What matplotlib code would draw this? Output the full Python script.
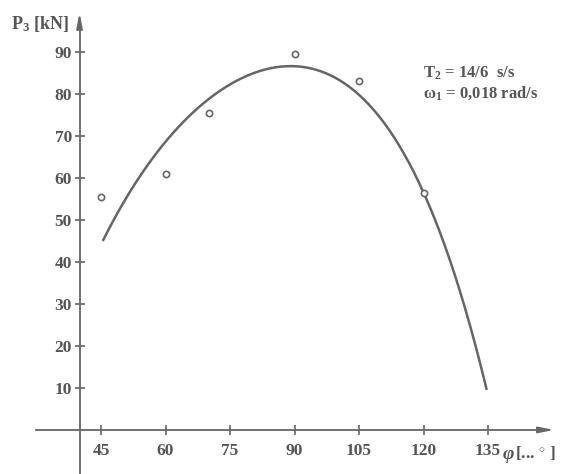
import matplotlib
matplotlib.use("Agg")
import matplotlib.pyplot as plt
import numpy as np

plt.rcParams["font.family"] = ["Liberation Serif", "DejaVu Serif"]
plt.rcParams["mathtext.fontset"] = "custom"
plt.rcParams["mathtext.rm"] = "Liberation Serif:bold"
plt.rcParams["mathtext.it"] = "Liberation Serif:italic:bold"
plt.rcParams["mathtext.bf"] = "Liberation Serif:bold"

# measured points: angle phi [deg] vs force P3 [kN]
phi_meas = [45, 60, 70, 90, 105, 120]
p3_meas = [55.5, 61.0, 75.5, 89.5, 83.0, 56.5]

# characteristic curve, sampled along its length
phi_curve = [45.4, 50.2, 55.6, 61.8, 68.8, 77.3, 82.0, 85.9, 89.0, 94.4,
             102.1, 109.9, 117.6, 121.5, 125.4, 129.3, 133.1, 134.7]
p3_curve = [45.2, 54.0, 62.7, 70.6, 77.8, 82.9, 85.6, 87.1, 87.3, 86.5,
            81.7, 73.0, 61.1, 53.2, 43.6, 31.0, 17.5, 7.5]

x_ticks = [45, 60, 75, 90, 105, 120, 135]
y_ticks = [10, 20, 30, 40, 50, 60, 70, 80, 90]

line_col = "#666666"
text_col = "#555555"

fig = plt.figure(figsize=(5.68, 4.74), dpi=100)
ax = fig.add_axes([0, 0, 1, 1])
ax.set_xlim(21.5, 153.6)
ax.set_ylim(-10.5, 102.4)

# axes crossing at phi = 40, P3 = 0
for s in ("top", "right"):
    ax.spines[s].set_visible(False)
ax.spines["left"].set_position(("data", 40))
ax.spines["bottom"].set_position(("data", 0))
ax.spines["left"].set_bounds(-10.5, 97)
ax.spines["bottom"].set_bounds(29.9, 148)
for s in ("left", "bottom"):
    ax.spines[s].set_color(line_col)
    ax.spines[s].set_linewidth(1.3)

ax.annotate("", xy=(40, 100.0), xytext=(40, 95),
            arrowprops=dict(arrowstyle="-|>,head_length=0.9,head_width=0.18",
                            color=line_col, lw=1.3))
ax.annotate("", xy=(151, 0), xytext=(146, 0),
            arrowprops=dict(arrowstyle="-|>,head_length=0.9,head_width=0.18",
                            color=line_col, lw=1.3))

ax.set_xticks(x_ticks)
ax.set_yticks(y_ticks)
ax.tick_params(direction="inout", length=7, width=1.2, color=line_col,
               labelcolor=text_col, labelsize=12.5)
ax.tick_params(axis="x", pad=6)
ax.tick_params(axis="y", pad=2)
for lab in ax.get_xticklabels() + ax.get_yticklabels():
    lab.set_fontweight("bold")

# smooth regression stroke through the sampled curve
coef = np.polyfit(phi_curve, p3_curve, 4)
cx = np.linspace(phi_curve[0], phi_curve[-1], 300)
cy = np.polyval(coef, cx)
ax.plot(cx, cy, color=line_col, lw=1.8, solid_capstyle="butt")
ax.plot(phi_meas, p3_meas, linestyle="none", marker="o", markersize=4.5,
        markerfacecolor="white", markeredgecolor=line_col, markeredgewidth=1.2)

ax.text(37.6, 96.6, "P$_3$ [kN]", ha="right", va="center", color=text_col,
        fontsize=13, fontweight="bold")
ax.text(138.4, -5.8, "φ", ha="left", va="center", color=text_col,
        fontsize=14, style="italic", fontweight="bold")
ax.text(141.3, -5.6, "[... $^{\\circ}$ ]", ha="left", va="center",
        color=text_col, fontsize=12.5, fontweight="bold")

ax.text(119.9, 85.0, "T$_2$ = 14/6  s/s", ha="left", va="center",
        color=text_col, fontsize=12, fontweight="bold")
ax.text(119.9, 80.2, "ω$_1$ = 0,018 rad/s", ha="left", va="center",
        color=text_col, fontsize=12, fontweight="bold")

fig.savefig("out.png", dpi=100, facecolor="white")
